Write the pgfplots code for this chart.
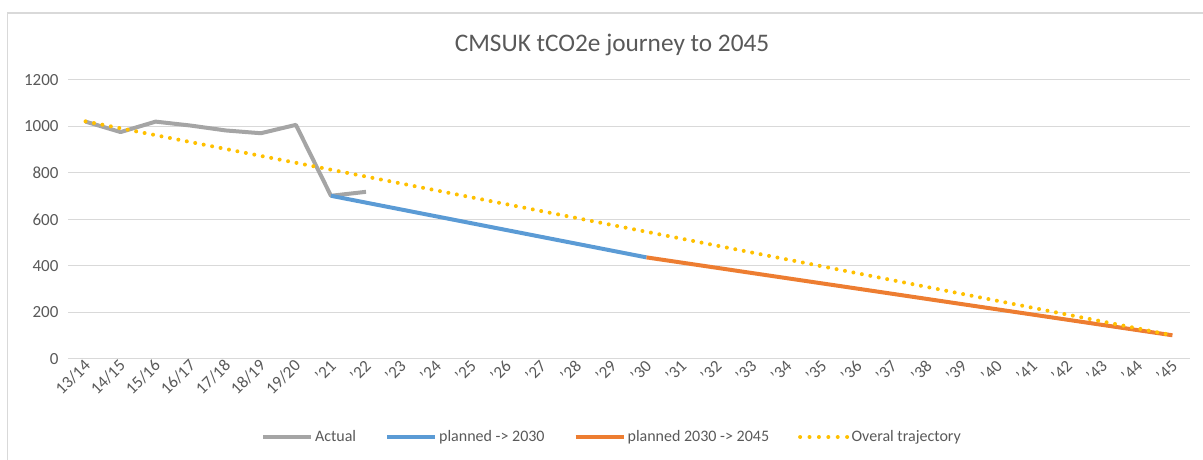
\documentclass[border=0pt]{standalone}
\usepackage{pgfplots}
\pgfplotsset{compat=1.18}
\usepackage{fontspec}
\setmainfont{Carlito}
\definecolor{cact}{HTML}{A5A5A5}
\definecolor{cblue}{HTML}{5B9BD5}
\definecolor{corange}{HTML}{ED7D31}
\definecolor{cyel}{HTML}{FFC000}
\definecolor{ctxt}{HTML}{595959}
\definecolor{cgrid}{HTML}{D9D9D9}
\begin{document}
\begin{tikzpicture}[x=1bp,y=1bp]
\useasboundingbox (0bp,0bp) rectangle (1203bp,460bp);
\draw[color=cgrid, line width=1.5bp] (7.5bp,0bp) -- (7.5bp,447bp) -- (1203bp,447bp);
\node[text=ctxt, font=\fontsize{25.3bp}{30bp}\selectfont] at (612bp,415bp) {CMSUK tCO2e journey to 2045};
\begin{axis}[
  at={(68bp,101bp)}, anchor=south west,
  scale only axis, width=1122bp, height=279bp,
  xmin=-0.5, xmax=31.5, ymin=0, ymax=1200,
  ytick={0,200,...,1200},
  xtick={0,...,31},
  xticklabels={13/14,14/15,15/16,16/17,17/18,18/19,19/20,’21,’22,’23,’24,’25,’26,’27,’28,’29,’30,’31,’32,’33,’34,’35,’36,’37,’38,’39,’40,’41,’42,’43,’44,’45},
  axis line style={draw=none},
  major tick length=0pt,
  ymajorgrids, grid style={cgrid, line width=1bp},
  /pgf/number format/assume math mode=true,
  /pgf/number format/1000 sep={},
  tick label style={text=ctxt, font=\fontsize{17bp}{20bp}\selectfont},
  xticklabel style={rotate=45, anchor=east, yshift=-4bp, xshift=2bp},
  yticklabel style={xshift=-6bp},
  legend columns=4,
  legend style={at={(0.4848,-0.2796)}, anchor=center, draw=none, fill=none,
    font=\fontsize{16bp}{19bp}\selectfont, text=ctxt,
    nodes={inner xsep=2bp},
    /tikz/every even column/.append style={column sep=27bp}},
  legend image code/.code={\draw[#1] (0bp,0bp) -- (48bp,0bp);},
]
\addplot[cact, line width=4bp, line join=round] coordinates {(0,1021)(1,976)(2,1021)(3,1004)(4,983)(5,971)(6,1007)(7,702)(8,719)};
\addlegendentry{Actual}
\addplot[cblue, line width=4bp, line join=round] coordinates {(7,702)(16,437)};
\addlegendentry{planned -> 2030}
\addplot[corange, line width=4bp, line join=round] coordinates {(16,437)(31,102)};
\addlegendentry{planned 2030 -> 2045}
\addplot[cyel, line width=4bp, line cap=round, dash pattern=on 0bp off 8.6bp,
  legend image code/.code={\draw[cyel, line width=4bp, line cap=round, dash pattern=on 0bp off 9.4bp] (0bp,0bp) -- (47.5bp,0bp);}] coordinates {(0,1022)(31,102)};
\addlegendentry{Overal trajectory}
\end{axis}
\end{tikzpicture}
\end{document}
